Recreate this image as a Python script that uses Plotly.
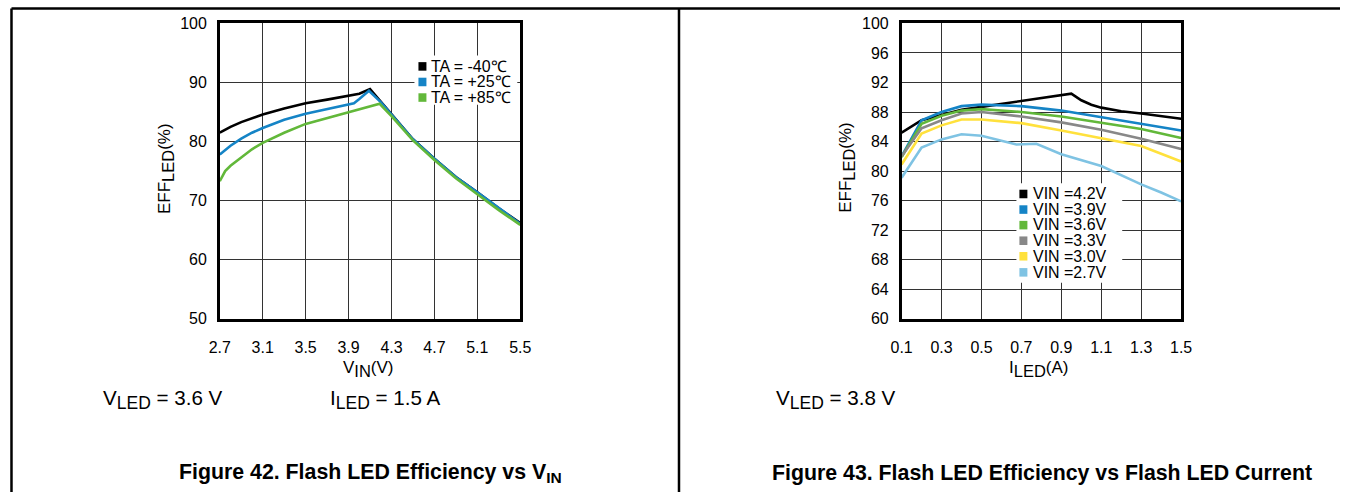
import plotly.graph_objects as go

W, H = 1351, 501

# ---------------- Figure 42: efficiency vs VIN ----------------
f42_names = ["TA = -40℃", "TA = +25℃", "TA = +85℃"]
f42_colors = ["#000000", "#1584c6", "#62b83a"]
vin_m40 = [2.7, 2.8, 2.9, 3.0, 3.1, 3.3, 3.5, 3.7, 3.9, 4.0, 4.1, 4.3, 4.5, 4.7, 4.9, 5.1, 5.3, 5.5]
eff_m40 = [81.5, 82.5, 83.3, 84.0, 84.6, 85.6, 86.5, 87.1, 87.7, 88.1, 88.9, 84.6, 80.4, 77.1, 74.0, 71.4, 68.7, 66.2]
vin_p25 = [2.7, 2.8, 2.9, 3.0, 3.1, 3.3, 3.5, 3.7, 3.9, 3.95, 4.0, 4.09, 4.2, 4.3, 4.5, 4.7, 4.9, 5.1, 5.3, 5.5]
eff_p25 = [77.8, 79.3, 80.5, 81.5, 82.3, 83.7, 84.7, 85.5, 86.2, 86.5, 87.2, 88.6, 86.7, 84.6, 80.4, 77.1, 74.0, 71.4, 68.7, 66.1]
vin_p85 = [2.7, 2.75, 2.8, 2.9, 3.0, 3.1, 3.3, 3.5, 3.7, 3.9, 4.0, 4.19, 4.3, 4.5, 4.7, 4.9, 5.1, 5.3, 5.5]
eff_p85 = [73.3, 75.0, 75.9, 77.3, 78.7, 79.8, 81.5, 83.0, 84.0, 84.9, 85.4, 86.4, 84.3, 80.2, 76.9, 73.8, 71.1, 68.4, 65.9]
f42_xticks = [2.7, 3.1, 3.5, 3.9, 4.3, 4.7, 5.1, 5.5]
f42_yticks = [50, 60, 70, 80, 90, 100]

# ---------------- Figure 43: efficiency vs ILED ----------------
f43_names = ["VIN =4.2V", "VIN =3.9V", "VIN =3.6V", "VIN =3.3V", "VIN =3.0V", "VIN =2.7V"]
f43_colors = ["#000000", "#1584c6", "#62b83a", "#888888", "#ffe13c", "#7fc3e3"]
iled_42 = [0.1, 0.2, 0.3, 0.4, 0.5, 0.6, 0.7, 0.8, 0.9, 0.95, 1.0, 1.05, 1.1, 1.2, 1.3, 1.4, 1.5]
eff_42 = [85.2, 86.9, 87.6, 88.3, 88.7, 89.1, 89.5, 89.8, 90.2, 90.5, 89.6, 89.0, 88.6, 88.1, 87.8, 87.5, 87.1]
iled_39 = [0.1, 0.2, 0.3, 0.4, 0.5, 0.7, 0.9, 1.1, 1.3, 1.5]
eff_39 = [82.0, 86.9, 88.0, 88.8, 89.0, 88.8, 88.2, 87.3, 86.5, 85.5]
iled_36 = [0.1, 0.2, 0.3, 0.4, 0.5, 0.7, 0.9, 1.1, 1.3, 1.5]
eff_36 = [81.9, 86.4, 87.5, 88.2, 88.4, 88.0, 87.4, 86.6, 85.7, 84.5]
iled_33 = [0.1, 0.2, 0.3, 0.4, 0.5, 0.7, 0.9, 1.1, 1.3, 1.5]
eff_33 = [82.0, 85.8, 86.9, 87.8, 88.0, 87.4, 86.6, 85.6, 84.4, 83.0]
iled_30 = [0.1, 0.2, 0.3, 0.4, 0.5, 0.7, 0.9, 1.1, 1.3, 1.5]
eff_30 = [80.9, 85.1, 86.2, 87.0, 87.0, 86.5, 85.5, 84.4, 83.4, 81.3]
iled_27 = [0.1, 0.2, 0.3, 0.4, 0.5, 0.6, 0.675, 0.775, 0.9, 1.1, 1.3, 1.4, 1.5]
eff_27 = [79.1, 83.2, 84.3, 85.0, 84.8, 84.1, 83.6, 83.7, 82.3, 80.7, 78.2, 77.1, 75.9]
f43_xticks = [0.1, 0.3, 0.5, 0.7, 0.9, 1.1, 1.3, 1.5]
f43_yticks = [60, 64, 68, 72, 76, 80, 84, 88, 92, 96, 100]

FONT = "Liberation Sans, Arial, sans-serif"

# The photographed page is framed with ~10 px padding and rescaled; map the
# reference pixel positions back into page pixels so the picture lines up.
PAD = 10
SX = (W + 2 * PAD) / W
SY = (H + 2 * PAD) / H
FS = 1.03  # font compensation for the rescale


def PX(xr):
    return xr * SX - PAD


def PY(yr):
    return yr * SY - PAD


def X(xr):
    return min(max(PX(xr) / W, 0), 1)


def Y(yr):
    return min(max(1 - PY(yr) / H, 0), 1)


fig = go.Figure()

for xs, ys, c, n in zip([vin_m40, vin_p25, vin_p85], [eff_m40, eff_p25, eff_p85], f42_colors, f42_names):
    fig.add_trace(go.Scatter(x=xs, y=ys, mode="lines", name=n, showlegend=False,
                             line=dict(color=c, width=2.6), xaxis="x", yaxis="y"))

for xs, ys, c, n in zip([iled_42, iled_39, iled_36, iled_33, iled_30, iled_27],
                        [eff_42, eff_39, eff_36, eff_33, eff_30, eff_27], f43_colors, f43_names):
    fig.add_trace(go.Scatter(x=xs, y=ys, mode="lines", name=n, showlegend=False,
                             line=dict(color=c, width=2.6), xaxis="x2", yaxis="y2"))

axis_common = dict(showline=True, mirror=True, linecolor="black", linewidth=2.5,
                   showgrid=True, gridcolor="#333333", gridwidth=1, zeroline=False,
                   ticks="", tickfont=dict(family=FONT, size=15.5 * FS, color="black"))

fig.update_layout(
    width=W, height=H, margin=dict(l=0, r=0, t=0, b=0),
    paper_bgcolor="white", plot_bgcolor="white", showlegend=False,
    font=dict(family=FONT, color="black"),
    xaxis=dict(domain=[X(219), X(520)], range=[2.7, 5.5], tickvals=f42_xticks,
               ticktext=[f"{v:.1f}" for v in f42_xticks], anchor="y",
               ticklabelstandoff=12, **axis_common),
    yaxis=dict(domain=[Y(319), Y(25)], range=[50, 100], tickvals=f42_yticks, anchor="x",
               ticklabelstandoff=7, **axis_common),
    xaxis2=dict(domain=[X(902), X(1182)], range=[0.1, 1.5], tickvals=f43_xticks,
                ticktext=[f"{v:.1f}" for v in f43_xticks], anchor="y2",
                ticklabelstandoff=12, **axis_common),
    yaxis2=dict(domain=[Y(319), Y(25)], range=[60, 100], tickvals=f43_yticks, anchor="x2",
                ticklabelstandoff=7, **axis_common),
)

shapes = []
annotations = []

# outer frame and divider (kept inside the page)
frame_lines = [(0.5, 0.5, W, 0.5), (0.5, 0.5, 0.5, H), (PX(679), 0.5, PX(679), H)]
for x0, y0, x1, y1 in frame_lines:
    shapes.append(dict(type="line", xref="paper", yref="paper", x0=x0 / W, y0=1 - y0 / H,
                       x1=x1 / W, y1=1 - y1 / H, line=dict(color="black", width=2.5)))


def legend(box, sq_x, txt_x, rows, names, colors, size):
    bx0, by0, bx1, by1 = box
    shapes.append(dict(type="rect", xref="paper", yref="paper", x0=X(bx0), y0=Y(by1),
                       x1=X(bx1), y1=Y(by0), fillcolor="white", line=dict(width=0), layer="above"))
    for ry, n, c in zip(rows, names, colors):
        shapes.append(dict(type="rect", xref="paper", yref="paper", x0=X(sq_x), x1=X(sq_x + 8),
                           y0=Y(ry + 4.5), y1=Y(ry - 4), fillcolor=c, line=dict(width=0), layer="above"))
        annotations.append(dict(text=n, xref="paper", yref="paper", x=X(txt_x), y=Y(ry),
                                xanchor="left", yanchor="middle", showarrow=False,
                                font=dict(family=FONT, size=size * FS, color="black")))


legend((414, 57, 517, 106), 418, 429, [67.5, 83, 98.5], f42_names, f42_colors, 15.5)
legend((1017, 184, 1123, 283), 1020, 1032, [194.5, 210, 225.5, 241, 256.5, 272.5], f43_names, f43_colors, 15.5)


def ann(text, x, y, xanchor="center", size=16.5, angle=0, bold=False):
    annotations.append(dict(text=f"<b>{text}</b>" if bold else text, xref="paper", yref="paper",
                            x=X(x), y=Y(y), xanchor=xanchor, yanchor="middle", showarrow=False,
                            textangle=angle, font=dict(family=FONT, size=size * FS, color="black")))


def sub(t, px):
    return f"<span style='font-size:{px * FS:.1f}px;baseline-shift:-4px'>{t}</span>"


# axis titles
ann("V" + sub("IN", 16) + "(V)", 367, 369)
ann("I" + sub("LED", 16) + "(A)", 1039, 369)
ann("EFF" + sub("LED", 16) + "(%)", 165, 169, angle=-90)
ann("EFF" + sub("LED", 16) + "(%)", 847, 168, angle=-90)

# conditions
ann("V" + sub("LED", 17) + " = 3.6 V", 100, 399, xanchor="left", size=20)
ann("I" + sub("LED", 17) + " = 1.5 A", 327, 399, xanchor="left", size=20)
ann("V" + sub("LED", 17) + " = 3.8 V", 774, 399, xanchor="left", size=20)

# figure captions
ann("Figure 42. Flash LED Efficiency vs V" + sub("IN", 15), 176, 472, xanchor="left", size=20.7, bold=True)
ann("Figure 43. Flash LED Efficiency vs Flash LED Current", 770, 472, xanchor="left", size=20.7, bold=True)

fig.update_layout(shapes=shapes, annotations=annotations)
fig.write_html("out.html", config={"displayModeBar": False},
               post_script="document.body.style.margin='0';document.body.style.overflow='hidden';")
